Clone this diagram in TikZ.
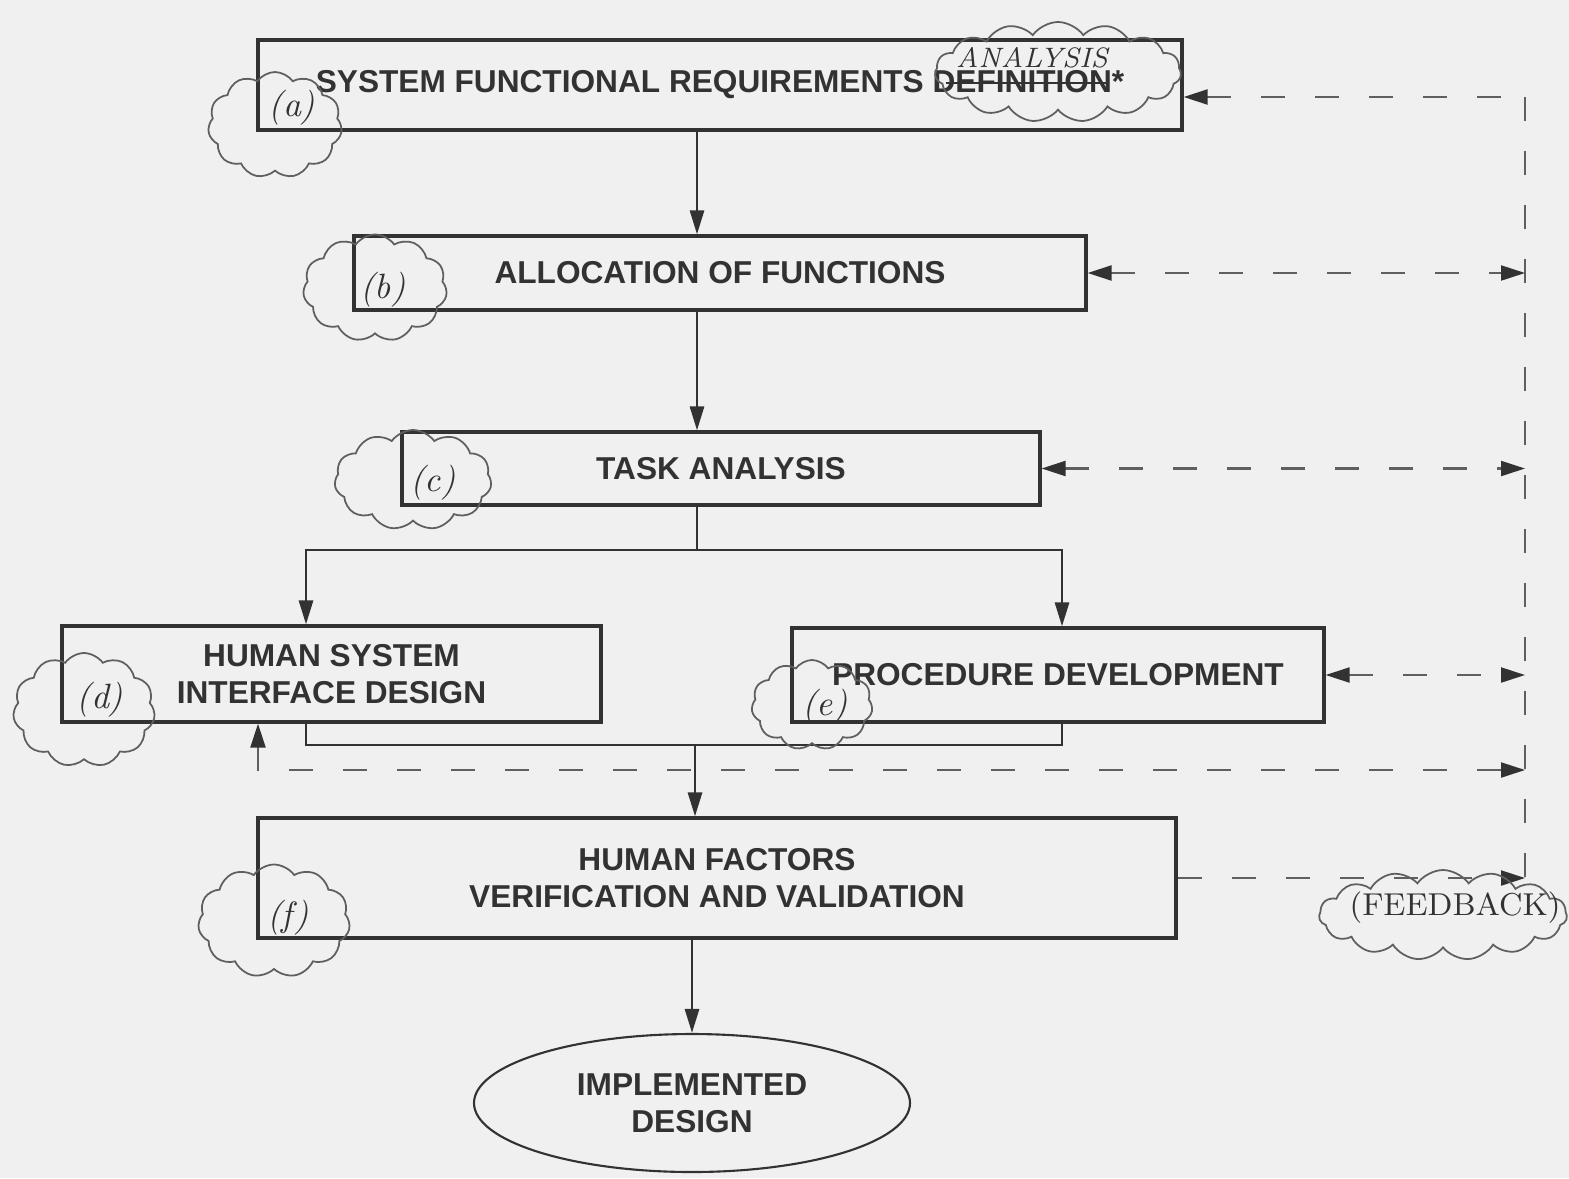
\documentclass[tikz,border=0pt]{standalone}
\usepackage{fontspec}
\newfontfamily\boxfont{Liberation Sans}
\usetikzlibrary{arrows.meta, shapes.geometric, shapes.symbols}
\definecolor{paper}{RGB}{240,240,240}
\definecolor{ink}{RGB}{50,50,50}
\definecolor{pencil}{RGB}{95,95,95}

\begin{document}
\begin{tikzpicture}[x = 1mm, y = -1mm,
	box/.style = {draw = ink, line width = 0.9pt, text = ink, font = \boxfont\bfseries\fontsize{9}{10.5}\selectfont, align = center, inner sep = 0pt},
	flow/.style = {draw = ink, line width = 0.8pt},
	arr/.style = {flow, -{Triangle[length = 2.4mm, width = 1.4mm]}},
	fbtip/.tip = {Triangle[length = 2.4mm, width = 1.5mm, color = ink]},
	fb/.style = {draw = pencil, line width = 0.6pt, dash pattern = on 2.4mm off 3mm},
	puff/.style = {cloud, cloud puffs = 11, cloud puff arc = 110, draw = pencil, line width = 0.5pt, inner sep = 0pt},
	hand/.style = {text = ink, font = \itshape\fontsize{10}{12}\selectfont}
	]
						\fill [paper] (0,0) rectangle (156.9,117.8);
						\useasboundingbox (0,0) rectangle (156.9,117.8);

						\begin{scope}
							\node [box, minimum width = 92.4mm, minimum height = 9mm] (sfr) at (72.0,8.5) {SYSTEM FUNCTIONAL REQUIREMENTS DEFINITION*};
							\node [box, minimum width = 73.2mm, minimum height = 7.4mm] (alloc) at (72.0,27.3) {ALLOCATION OF FUNCTIONS};
							\node [box, minimum width = 63.8mm, minimum height = 7.3mm] (task) at (72.1,46.85) {TASK ANALYSIS};
							\node [box, minimum width = 53.9mm, minimum height = 9.6mm] (hsi) at (33.15,67.4) {HUMAN SYSTEM\\INTERFACE DESIGN};
							\node [box, minimum width = 53.2mm, minimum height = 9.4mm] (proc) at (105.8,67.5) {PROCEDURE DEVELOPMENT};
							\node [box, minimum width = 91.8mm, minimum height = 12mm] (vv) at (71.7,87.8) {HUMAN FACTORS\\VERIFICATION AND VALIDATION};
							\node [box, ellipse, line width = 0.6pt, minimum width = 43.6mm, minimum height = 13.8mm] (impl) at (69.2,110.3) {IMPLEMENTED\\DESIGN};
							\draw [ink, line width = 0.6pt] (94.6,8.3) -- (110.6,8.3);
						\end{scope}

						\coordinate (spine) at (69.7,0);
						\coordinate (split) at (69.7,55.0);
						\coordinate (hsiIn) at (30.6,0);
						\coordinate (procIn) at (106.2,0);
						\coordinate (merge) at (69.5,74.5);
						\coordinate (fbline) at (152.5,0);
						\coordinate (fbtop) at (152.5,9.7);
						\coordinate (hsiFb) at (25.8,77.0);

						\begin{scope}
							\draw [arr] (sfr.south -| spine) -- (alloc.north -| spine);
							\draw [arr] (alloc.south -| spine) -- (task.north -| spine);
							\draw [flow] (task.south -| spine) -- (split);
							\draw [arr] (split) -| (hsi.north -| hsiIn);
							\draw [arr] (split) -| (proc.north -| procIn);
							\draw [flow] (hsi.south -| hsiIn) |- (merge) -| (proc.south -| procIn);
							\draw [arr] (merge) -- (vv.north -| merge);
							\draw [arr] (vv.south -| impl) -- (impl.north);
						\end{scope}

						\begin{scope}
							\draw [fb] (fbtop) -- (vv.east -| fbline);
							\draw [fb, fbtip-] (sfr.east |- fbtop) -- (fbtop);
							\draw [fb, fbtip-fbtip] (alloc.east) -- (alloc.east -| fbline);
							\draw [fb, fbtip-fbtip] (task.east) -- (task.east -| fbline);
							\draw [fb, fbtip-fbtip] (proc.east) -- (proc.east -| fbline);
							\draw [fb, fbtip-fbtip] (hsi.south -| hsiFb) |- (hsiFb -| fbline);
							\draw [fb, -fbtip] (vv.east) -- (vv.east -| fbline);
						\end{scope}

						\begin{scope}
							\node [puff, minimum width = 13.4mm, minimum height = 10.6mm] (noteA) at (27.5,12.5) {};
							\node [hand] (tagA) at (29.2,10.8) {(a)};
							\node [puff, minimum width = 14.4mm, minimum height = 10.7mm] (noteB) at (37.5,28.8) {};
							\node [hand] (tagB) at (38.3,29.0) {(b)};
							\node [puff, minimum width = 15.7mm, minimum height = 10mm] (noteC) at (41.3,48.0) {};
							\node [hand] (tagC) at (43.3,48.3) {(c)};
							\node [puff, minimum width = 14.2mm, minimum height = 11.4mm] (noteD) at (8.4,71.0) {};
							\node [hand] (tagD) at (10.0,70.0) {(d)};
							\node [puff, minimum width = 12.1mm, minimum height = 9mm] (noteE) at (81.2,70.5) {};
							\node [hand] (tagE) at (82.5,70.7) {(e)};
							\node [puff, minimum width = 15.2mm, minimum height = 11.3mm] (noteF) at (27.4,92.1) {};
							\node [hand] (tagF) at (28.8,91.8) {(f)};
							\node [puff, cloud puffs = 15, minimum width = 24.6mm, minimum height = 10mm] (noteSfr) at (105.8,7.2) {};
							\node [hand, font = \itshape\fontsize{8}{10}\selectfont] (tagSfr) at (103.2,5.8) {ANALYSIS};
							\node [puff, cloud puffs = 15, minimum width = 24.8mm, minimum height = 9mm] (noteFb) at (144.3,91.5) {};
							\node [hand, font = \fontsize{9}{11}\selectfont] (tagFb) at (145.5,90.8) {(FEEDBACK)};
						\end{scope}
					\end{tikzpicture}
\end{document}
